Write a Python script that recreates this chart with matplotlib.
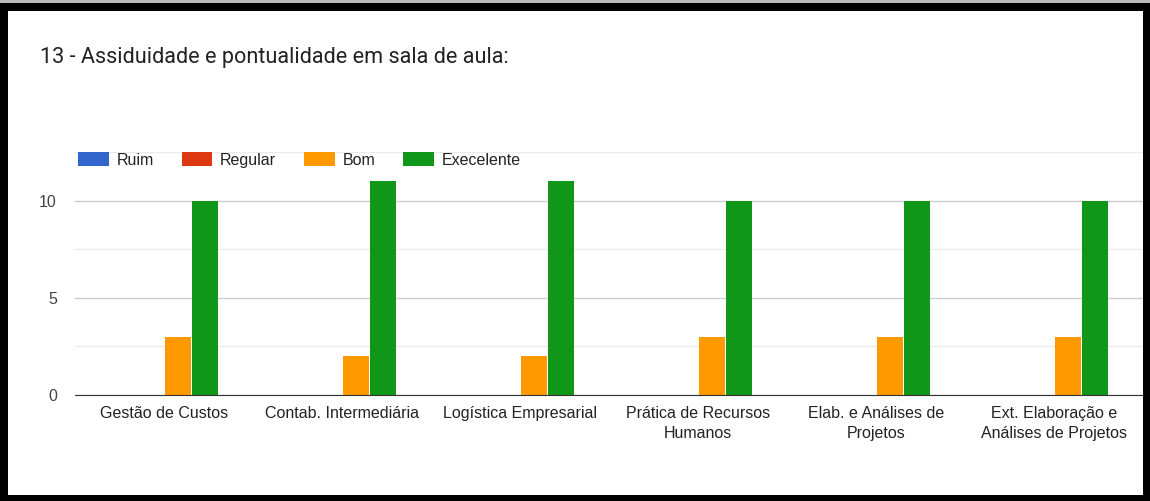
import matplotlib.pyplot as plt
import numpy as np
from matplotlib.patches import Rectangle

# dados do grafico
categorias = ["Gestão de Custos", "Contab. Intermediária", "Logística Empresarial",
              "Prática de Recursos\nHumanos", "Elab. e Análises de\nProjetos",
              "Ext. Elaboração e\nAnálises de Projetos"]
ruim = [0, 0, 0, 0, 0, 0]
regular = [0, 0, 0, 0, 0, 0]
bom = [3, 2, 2, 3, 3, 3]
execelente = [10, 11, 11, 10, 10, 10]
series = ["Ruim", "Regular", "Bom", "Execelente"]
cores = ["#3366cc", "#dc3912", "#ff9900", "#109618"]

W, H = 1150, 501
fig = plt.figure(figsize=(W / 100, H / 100), dpi=100)

# moldura preta
for x, y, w, h in [(0, 0, 8, H), (1143, 0, 7, H), (0, 0, W, 6), (0, H - 11, W, 8)]:
    fig.patches.append(Rectangle((x / W, y / H), w / W, h / H, transform=fig.transFigure,
                                 facecolor="black", edgecolor="none", zorder=10))
fig.patches.append(Rectangle((0, (H - 3) / H), 1, 3 / H, transform=fig.transFigure,
                             facecolor="#bbbbbb", edgecolor="none", zorder=10))

fig.text(40 / W, 1 - 58 / H, "13 - Assiduidade e pontualidade em sala de aula:",
         fontsize=15.6, family="Roboto", color="#222222", va="center")

ax = fig.add_axes([75 / W, 106 / H, (1143 - 75) / W, (395 - 152) / H])
x = np.arange(len(categorias))
step = 0.155
valores = [ruim, regular, bom, execelente]
for i, (nome, vals, cor) in enumerate(zip(series, valores, cores)):
    ax.bar(x + (i - 1.5) * step, vals, width=step - 0.008, color=cor, label=nome, zorder=3)

ax.set_xlim(-0.5, len(categorias) - 0.5)
ax.set_ylim(0, 12.5)
ax.set_yticks([0, 5, 10])
ax.set_yticks([2.5, 7.5, 12.5], minor=True)
ax.grid(axis="y", which="major", color="#cccccc", linewidth=1, zorder=0)
ax.grid(axis="y", which="minor", color="#ebebeb", linewidth=1, zorder=0)
ax.set_xticks(x)
ax.set_xticklabels(categorias, fontsize=11.5, family="Liberation Sans", color="#222222",
                   linespacing=1.4, va="top")
for lab in ax.get_yticklabels():
    lab.set_fontsize(11.5)
    lab.set_family("Liberation Sans")
    lab.set_color("#444444")
ax.tick_params(axis="both", which="both", length=0)
ax.tick_params(axis="y", pad=13)
ax.tick_params(axis="x", pad=8)
for s in ["top", "right", "left"]:
    ax.spines[s].set_visible(False)
ax.spines["bottom"].set_color("#333333")
ax.spines["bottom"].set_zorder(4)

leg = fig.legend(loc="center left", bbox_to_anchor=(64 / W, 1 - 160 / H), ncol=4,
                 frameon=False, prop={"family": "Liberation Sans", "size": 11.5},
                 handlelength=1.9, handleheight=0.95, columnspacing=1.75, handletextpad=0.5)
for t in leg.get_texts():
    t.set_color("#222222")

fig.savefig("out.png", dpi=100, facecolor="white")
